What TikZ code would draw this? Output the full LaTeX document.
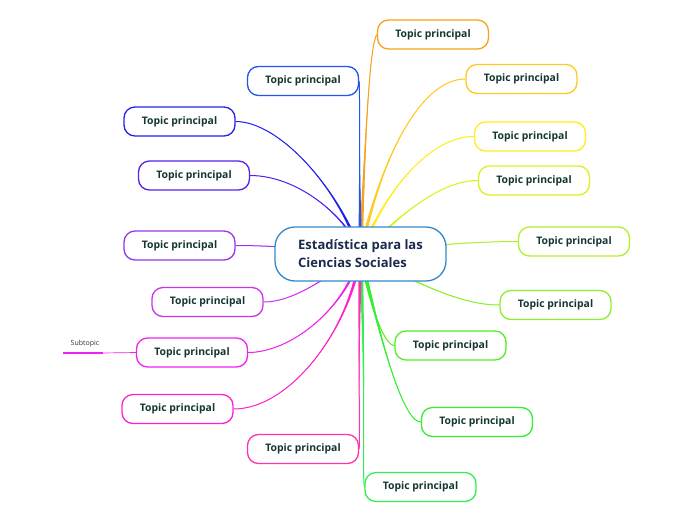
\documentclass[tikz,border=0pt]{standalone}
\usepackage{fontspec}
\setmainfont{Open Sans}
\usetikzlibrary{calc,backgrounds}
\definecolor{topictext}{HTML}{143631}
\definecolor{ctrtext}{HTML}{1B2A4E}
\definecolor{ctrline}{HTML}{3388CC}
\definecolor{cA}{HTML}{F7A21B}
\definecolor{cB}{HTML}{FFC91F}
\definecolor{cC}{HTML}{FFEE1A}
\definecolor{cD}{HTML}{DDF01F}
\definecolor{cE}{HTML}{B1F02C}
\definecolor{cF}{HTML}{8BEF2B}
\definecolor{cG}{HTML}{55EE22}
\definecolor{cH}{HTML}{33EE33}
\definecolor{cI}{HTML}{33EE55}
\definecolor{cJ}{HTML}{FF33AA}
\definecolor{cK}{HTML}{FF22CC}
\definecolor{cL}{HTML}{EE22EE}
\definecolor{cM}{HTML}{CC33EE}
\definecolor{cN}{HTML}{9933EE}
\definecolor{cO}{HTML}{5522EE}
\definecolor{cP}{HTML}{2222EE}
\definecolor{cQ}{HTML}{2255EE}
\newcommand\mybranch[4]{%
  \fill[#1] ($(ctr.center)!2.1pt!90:(#2)$) .. controls (#2) and (#3) .. (#4)
     .. controls (#3) and (#2) .. ($(ctr.center)!2.1pt!-90:(#2)$) -- cycle;
  \draw[#1, line width=1pt] (ctr.center) .. controls (#2) and (#3) .. (#4);
}
\tikzset{
  topic/.style={draw=#1, line width=1.3pt, rounded corners=11pt, fill=white,
    minimum width=111pt, minimum height=29pt, inner sep=0pt,
    text=topictext, font=\bfseries\fontsize{10.4}{12}\selectfont},
  centre/.style={draw=ctrline, line width=1.3pt, rounded corners=20pt, fill=white,
    minimum width=171pt, minimum height=54pt, inner sep=0pt, align=left,
    text=ctrtext, font=\bfseries\fontsize{13}{18}\selectfont},
  subtext/.style={text=black!80, font=\fontsize{7}{8}\selectfont, inner sep=1pt}
}
\begin{document}
\begin{tikzpicture}[x=1pt,y=-1pt]
\useasboundingbox (0,0) rectangle (696,520);
\node[centre] (ctr) at (360.5,254) {Estadística para las\\Ciencias Sociales};
\node[topic=cA] (n1) at (433,34.5) {Topic principal};
\node[topic=cB] (n2) at (521.5,79) {Topic principal};
\node[topic=cC] (n3) at (530,136.5) {Topic principal};
\node[topic=cD] (n4) at (534,180.5) {Topic principal};
\node[topic=cE] (n5) at (574,241.5) {Topic principal};
\node[topic=cF] (n6) at (555.5,305) {Topic principal};
\node[topic=cG] (n7) at (450.5,345.5) {Topic principal};
\node[topic=cH] (n8) at (477,422) {Topic principal};
\node[topic=cI] (n9) at (420.5,487) {Topic principal};
\node[topic=cJ] (n10) at (303,449) {Topic principal};
\node[topic=cK] (n11) at (177.5,409) {Topic principal};
\node[topic=cL] (n12) at (192,352.5) {Topic principal};
\node[topic=cM] (n13) at (207.5,302) {Topic principal};
\node[topic=cN] (n14) at (179.5,245.5) {Topic principal};
\node[topic=cO] (n15) at (194,175.5) {Topic principal};
\node[topic=cP] (n16) at (179.5,121.5) {Topic principal};
\node[topic=cQ] (n17) at (303,81) {Topic principal};
\node[subtext] (sub) at (85,344) {Subtopic};
\coordinate (s1) at (63,353);
\coordinate (s2) at (103,353);
\draw[cL, line width=2.2pt] (s1) -- (s2);
\draw[cL, line width=0.7pt] (s2) -- (n12.west);
\begin{pgfonlayer}{background}
\fill[white] (0,0) rectangle (696,520);
\mybranch{cA}{366,120}{370,45}{n1.west}
\mybranch{cB}{380,160}{420,79}{n2.west}
\mybranch{cC}{385,190}{430,136.5}{n3.west}
\mybranch{cD}{400,215}{440,180.5}{n4.west}
\mybranch{cE}{420,245}{480,241.5}{n5.west}
\mybranch{cF}{415,282}{460,305}{n6.west}
\mybranch{cG}{370,310}{385,345.5}{n7.west}
\mybranch{cH}{385,360}{405,422}{n8.west}
\mybranch{cI}{366,380}{362,470}{n9.west}
\mybranch{cJ}{358,350}{360,440}{n10.east}
\mybranch{cK}{350,330}{290,409}{n11.east}
\mybranch{cL}{345,310}{290,352.5}{n12.east}
\mybranch{cM}{330,275}{295,302}{n13.east}
\mybranch{cN}{300,247}{260,245.5}{n14.east}
\mybranch{cO}{350,220}{300,175.5}{n15.east}
\mybranch{cP}{340,190}{280,121.5}{n16.east}
\mybranch{cQ}{359,180}{360,90}{n17.east}
\end{pgfonlayer}
\end{tikzpicture}
\end{document}
